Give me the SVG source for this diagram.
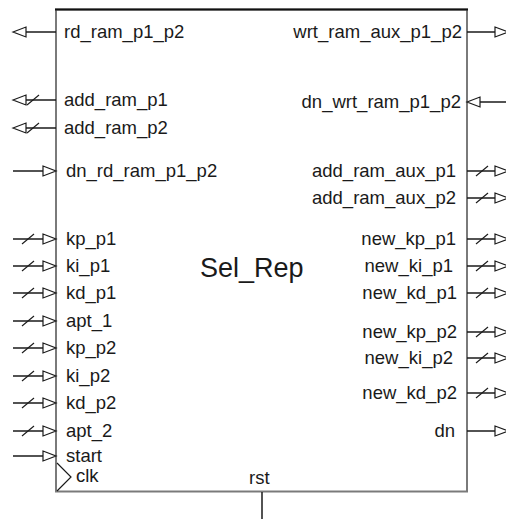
<svg xmlns="http://www.w3.org/2000/svg" xmlns:xlink="http://www.w3.org/1999/xlink" width="506" height="519" viewBox="0 0 506 519">
  <style>
    .pin { stroke: #1a1a1a; stroke-width: 1.5; fill: none; }
    .arw { stroke: #1a1a1a; stroke-width: 1.2; fill: #ffffff; }
    .bus { stroke: #1a1a1a; stroke-width: 1.1; }
    .lbl { font-family: "Liberation Sans", Arial, sans-serif; font-size: 18.5px; fill: #1a1a1a; }
    .end { text-anchor: end; }
    .title { font-family: "Liberation Sans", Arial, sans-serif; font-size: 27px; fill: #1a1a1a; }
  </style>
  <defs>
    <!-- right-pointing arrowhead, base at origin -->
    <polygon id="tri-r" points="0,-5 13,0 0,5" class="arw"/>
    <!-- left-pointing arrowhead, tip at origin -->
    <polygon id="tri-l" points="0,0 13,-5 13,5" class="arw"/>
    <!-- bus marker -->
    <line id="slash" x1="-6" y1="5" x2="6" y2="-5" class="bus"/>
  </defs>

  <rect width="506" height="519" fill="#ffffff"/>

  <!-- component body -->
  <g id="sel_rep">
    <rect x="56" y="9.5" width="411" height="482" fill="none" stroke="#7a7a7a" stroke-width="2"/>
    <line x1="55" y1="9.5" x2="468" y2="9.5" stroke="#111" stroke-width="2"/>
    <text class="title" x="200" y="277">Sel_Rep</text>
  </g>

  <g id="connectors">
    <!-- left side -->
    <g id="pin-rd_ram_p1_p2">
      <line class="pin" x1="26" y1="32" x2="56" y2="32"/>
      <use xlink:href="#tri-l" x="13" y="32"/>
      <text class="lbl" x="64" y="38">rd_ram_p1_p2</text>
    </g>
    <g id="pin-add_ram_p1">
      <line class="pin" x1="26" y1="100" x2="56" y2="100"/>
      <use xlink:href="#tri-l" x="13" y="100"/>
      <use xlink:href="#slash" x="33" y="100"/>
      <text class="lbl" x="64" y="106">add_ram_p1</text>
    </g>
    <g id="pin-add_ram_p2">
      <line class="pin" x1="26" y1="128" x2="56" y2="128"/>
      <use xlink:href="#tri-l" x="13" y="128"/>
      <use xlink:href="#slash" x="33" y="128"/>
      <text class="lbl" x="64" y="134">add_ram_p2</text>
    </g>
    <g id="pin-dn_rd_ram_p1_p2">
      <line class="pin" x1="13" y1="171" x2="43" y2="171"/>
      <use xlink:href="#tri-r" x="43" y="171"/>
      <text class="lbl" x="66" y="177">dn_rd_ram_p1_p2</text>
    </g>
    <g id="pin-kp_p1">
      <line class="pin" x1="13" y1="239" x2="43" y2="239"/>
      <use xlink:href="#slash" x="28" y="239"/>
      <use xlink:href="#tri-r" x="43" y="239"/>
      <text class="lbl" x="66" y="245">kp_p1</text>
    </g>
    <g id="pin-ki_p1">
      <line class="pin" x1="13" y1="266" x2="43" y2="266"/>
      <use xlink:href="#slash" x="28" y="266"/>
      <use xlink:href="#tri-r" x="43" y="266"/>
      <text class="lbl" x="66" y="272">ki_p1</text>
    </g>
    <g id="pin-kd_p1">
      <line class="pin" x1="13" y1="293" x2="43" y2="293"/>
      <use xlink:href="#slash" x="28" y="293"/>
      <use xlink:href="#tri-r" x="43" y="293"/>
      <text class="lbl" x="66" y="299">kd_p1</text>
    </g>
    <g id="pin-apt_1">
      <line class="pin" x1="13" y1="321" x2="43" y2="321"/>
      <use xlink:href="#slash" x="28" y="321"/>
      <use xlink:href="#tri-r" x="43" y="321"/>
      <text class="lbl" x="66" y="327">apt_1</text>
    </g>
    <g id="pin-kp_p2">
      <line class="pin" x1="13" y1="348" x2="43" y2="348"/>
      <use xlink:href="#slash" x="28" y="348"/>
      <use xlink:href="#tri-r" x="43" y="348"/>
      <text class="lbl" x="66" y="354">kp_p2</text>
    </g>
    <g id="pin-ki_p2">
      <line class="pin" x1="13" y1="376" x2="43" y2="376"/>
      <use xlink:href="#slash" x="28" y="376"/>
      <use xlink:href="#tri-r" x="43" y="376"/>
      <text class="lbl" x="66" y="382">ki_p2</text>
    </g>
    <g id="pin-kd_p2">
      <line class="pin" x1="13" y1="403" x2="43" y2="403"/>
      <use xlink:href="#slash" x="28" y="403"/>
      <use xlink:href="#tri-r" x="43" y="403"/>
      <text class="lbl" x="66" y="409">kd_p2</text>
    </g>
    <g id="pin-apt_2">
      <line class="pin" x1="13" y1="431" x2="43" y2="431"/>
      <use xlink:href="#slash" x="28" y="431"/>
      <use xlink:href="#tri-r" x="43" y="431"/>
      <text class="lbl" x="66" y="437">apt_2</text>
    </g>
    <g id="pin-start">
      <line class="pin" x1="13" y1="456" x2="43" y2="456"/>
      <use xlink:href="#tri-r" x="43" y="456"/>
      <text class="lbl" x="66" y="462">start</text>
    </g>
    <g id="pin-clk">
      <polyline points="57,463 71,477 57,491" fill="none" stroke="#1a1a1a" stroke-width="1.2"/>
      <text class="lbl" x="76" y="482">clk</text>
    </g>

    <!-- bottom -->
    <g id="pin-rst">
      <line class="pin" x1="262" y1="492" x2="262" y2="519"/>
      <text class="lbl" x="249" y="484">rst</text>
    </g>

    <!-- right side -->
    <g id="pin-wrt_ram_aux_p1_p2">
      <line class="pin" x1="467" y1="32" x2="495" y2="32"/>
      <use xlink:href="#tri-r" x="495" y="32"/>
      <text class="lbl end" x="462" y="38">wrt_ram_aux_p1_p2</text>
    </g>
    <g id="pin-dn_wrt_ram_p1_p2">
      <line class="pin" x1="480" y1="102" x2="506" y2="102"/>
      <use xlink:href="#tri-l" x="467" y="102"/>
      <text class="lbl end" x="461" y="108">dn_wrt_ram_p1_p2</text>
    </g>
    <g id="pin-add_ram_aux_p1">
      <line class="pin" x1="467" y1="171" x2="495" y2="171"/>
      <use xlink:href="#slash" x="482" y="171"/>
      <use xlink:href="#tri-r" x="495" y="171"/>
      <text class="lbl end" x="456" y="177">add_ram_aux_p1</text>
    </g>
    <g id="pin-add_ram_aux_p2">
      <line class="pin" x1="467" y1="198" x2="495" y2="198"/>
      <use xlink:href="#slash" x="482" y="198"/>
      <use xlink:href="#tri-r" x="495" y="198"/>
      <text class="lbl end" x="456" y="204">add_ram_aux_p2</text>
    </g>
    <g id="pin-new_kp_p1">
      <line class="pin" x1="467" y1="239" x2="495" y2="239"/>
      <use xlink:href="#slash" x="482" y="239"/>
      <use xlink:href="#tri-r" x="495" y="239"/>
      <text class="lbl end" x="456" y="245">new_kp_p1</text>
    </g>
    <g id="pin-new_ki_p1">
      <line class="pin" x1="467" y1="266" x2="495" y2="266"/>
      <use xlink:href="#slash" x="482" y="266"/>
      <use xlink:href="#tri-r" x="495" y="266"/>
      <text class="lbl end" x="453" y="272">new_ki_p1</text>
    </g>
    <g id="pin-new_kd_p1">
      <line class="pin" x1="467" y1="293" x2="495" y2="293"/>
      <use xlink:href="#slash" x="482" y="293"/>
      <use xlink:href="#tri-r" x="495" y="293"/>
      <text class="lbl end" x="457" y="299">new_kd_p1</text>
    </g>
    <g id="pin-new_kp_p2">
      <line class="pin" x1="467" y1="332" x2="495" y2="332"/>
      <use xlink:href="#slash" x="482" y="332"/>
      <use xlink:href="#tri-r" x="495" y="332"/>
      <text class="lbl end" x="457" y="338">new_kp_p2</text>
    </g>
    <g id="pin-new_ki_p2">
      <line class="pin" x1="467" y1="358" x2="495" y2="358"/>
      <use xlink:href="#slash" x="482" y="358"/>
      <use xlink:href="#tri-r" x="495" y="358"/>
      <text class="lbl end" x="453" y="364">new_ki_p2</text>
    </g>
    <g id="pin-new_kd_p2">
      <line class="pin" x1="467" y1="393" x2="495" y2="393"/>
      <use xlink:href="#slash" x="482" y="393"/>
      <use xlink:href="#tri-r" x="495" y="393"/>
      <text class="lbl end" x="457" y="399">new_kd_p2</text>
    </g>
    <g id="pin-dn">
      <line class="pin" x1="467" y1="431" x2="495" y2="431"/>
      <use xlink:href="#tri-r" x="495" y="431"/>
      <text class="lbl end" x="455" y="437">dn</text>
    </g>
  </g>
</svg>
